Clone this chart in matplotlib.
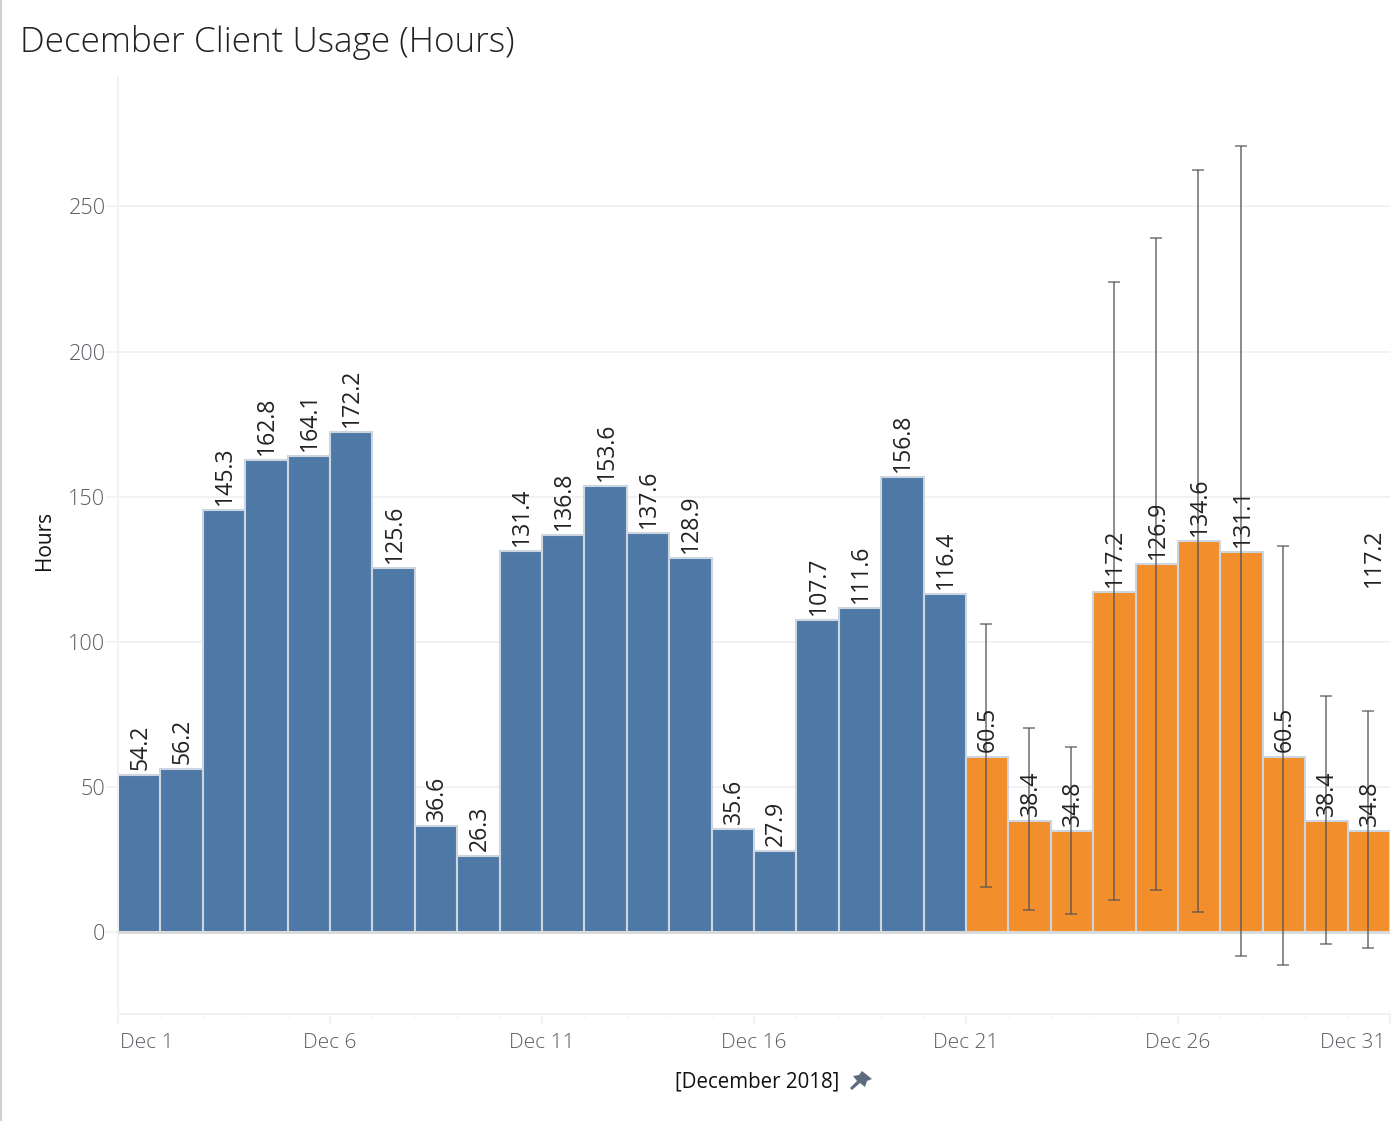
import matplotlib
matplotlib.use("Agg")
import matplotlib.pyplot as plt
from matplotlib.patches import Polygon
from matplotlib.lines import Line2D
from matplotlib.transforms import ScaledTranslation
import numpy as np

W, H = 1400, 1121

# actual hours, Dec 1 - Dec 20
actual = [54.2, 56.2, 145.3, 162.8, 164.1, 172.2, 125.6, 36.6, 26.3, 131.4,
          136.8, 153.6, 137.6, 128.9, 35.6, 27.9, 107.7, 111.6, 156.8, 116.4]
# forecast hours, Dec 21 - Dec 30
forecast = [60.5, 38.4, 34.8, 117.2, 126.9, 134.6, 131.1, 60.5, 38.4, 34.8]
err_high = [106.2, 70.4, 63.9, 224.0, 239.2, 262.6, 270.8, 133.1, 81.4, 76.3]
err_low = [15.7, 7.7, 6.4, 11.2, 14.6, 7.0, -8.1, -11.2, -4.0, -5.3]
# Dec 31 has a label but its bar falls off the axis
last_label = 117.2

x_labels = ["Dec 1", "Dec 6", "Dec 11", "Dec 16", "Dec 21", "Dec 26", "Dec 31"]
x_label_days = [0, 5, 10, 15, 20, 25, 30]
y_ticks = [0, 50, 100, 150, 200, 250]

plt.rcParams["font.family"] = ["Open Sans", "DejaVu Sans"]

fig = plt.figure(figsize=(W / 100, H / 100), dpi=100)
ax = fig.add_axes([118 / W, 1 - 1013.5 / H, (1390 - 118) / W, (1013.5 - 77) / H])
ax.set_xlim(0, 30)
ax.set_ylim(-27.9, 294.5)

edge = "#ccd5e0"
n_a = len(actual)
x_a = np.arange(n_a)
x_f = np.arange(n_a, n_a + len(forecast))
ax.bar(x_a, actual, width=1, align="edge", color="#4e79a7", edgecolor=edge, linewidth=1.5, zorder=2)
ax.bar(x_f, forecast, width=1, align="edge", color="#f28e2b", edgecolor=edge, linewidth=1.5, zorder=2)

# gridlines and baseline
ax.grid(axis="y", color="#f1f1f1", linewidth=1.3, zorder=0)
ax.set_axisbelow(True)
ax.axhline(0, color="#d9d9d9", linewidth=2, zorder=3)

# error bars
high = np.array(err_high)
low = np.array(err_low)
mid = x_f + 0.5 - 0.02
err_kw = dict(color="#555555", alpha=0.68, zorder=4)
ax.vlines(mid, low, high, linewidth=1.4, **err_kw)
ax.plot(mid, high, linestyle="none", marker="_", markersize=8.5, markeredgewidth=1.3, **err_kw)
ax.plot(mid, low, linestyle="none", marker="_", markersize=8.5, markeredgewidth=1.3, **err_kw)

# value labels
label_kw = dict(rotation=90, ha="center", va="bottom", fontsize=16.6, color="#222222", zorder=5)
for x, v in zip(np.r_[x_a, x_f], actual + forecast):
    ax.annotate(f"{v}", (x + 0.5, v), xytext=(1, 5), textcoords="offset pixels", **label_kw)
ax.annotate(f"{last_label}", (29.6, last_label), xytext=(1, 5), textcoords="offset pixels", **label_kw)

# axes
for s in ["top", "right"]:
    ax.spines[s].set_visible(False)
for s in ["left", "bottom"]:
    ax.spines[s].set_color("#f1f1f1")
    ax.spines[s].set_linewidth(1.3)

ax.set_yticks(y_ticks)
ax.tick_params(axis="y", length=9, width=1.2, color="#f1f1f1", labelcolor="#5c5c64", labelsize=15.6, pad=0)
ax.set_xticks(x_label_days)
ax.set_xticklabels(x_labels)
ax.set_xticks(np.arange(0, 31), minor=True)
ax.tick_params(axis="x", which="major", length=8, width=1.2, color="#f1f1f1", labelcolor="#5c5c64", labelsize=15, pad=6)
ax.tick_params(axis="x", which="minor", length=2.5, width=1, color="#f1f1f1")
for lab in ax.get_xticklabels() + ax.get_yticklabels():
    lab.set_fontweight("light")
xtl = ax.get_xticklabels()
xtl[0].set_ha("left")
xtl[0].set_transform(xtl[0].get_transform() + ScaledTranslation(2 / 100, 0, fig.dpi_scale_trans))
xtl[-1].set_ha("right")
xtl[-1].set_transform(xtl[-1].get_transform() + ScaledTranslation(-5 / 100, 0, fig.dpi_scale_trans))

fig.text(20 / W, 1 - 42 / H, "December Client Usage (Hours)", fontsize=25.3, color="#222222",
         ha="left", va="center", fontweight="light")
fig.text(45 / W, 1 - 540 / H, "Hours", rotation=90, ha="center", va="center", fontsize=15, color="#111111")
fig.text(757 / W, 1 - 1082 / H, "[December 2018]", ha="center", va="center", fontsize=14.8, color="#111111")

# pin icon next to the axis title
pin = [(862, 1071), (872, 1079), (867, 1081), (865, 1087), (860, 1083), (852, 1090),
       (850, 1088), (857, 1081), (853, 1076), (859, 1075)]
fig.add_artist(Polygon([(px / W, 1 - py / H) for px, py in pin], closed=True,
                       transform=fig.transFigure, facecolor="#5d6b7e", edgecolor="none"))

# thin grey border down the left edge
fig.add_artist(Line2D([0.5 / W, 0.5 / W], [0, 1], transform=fig.transFigure, color="#d0d0d0", linewidth=1.5))

fig.savefig("out.png", dpi=100)
